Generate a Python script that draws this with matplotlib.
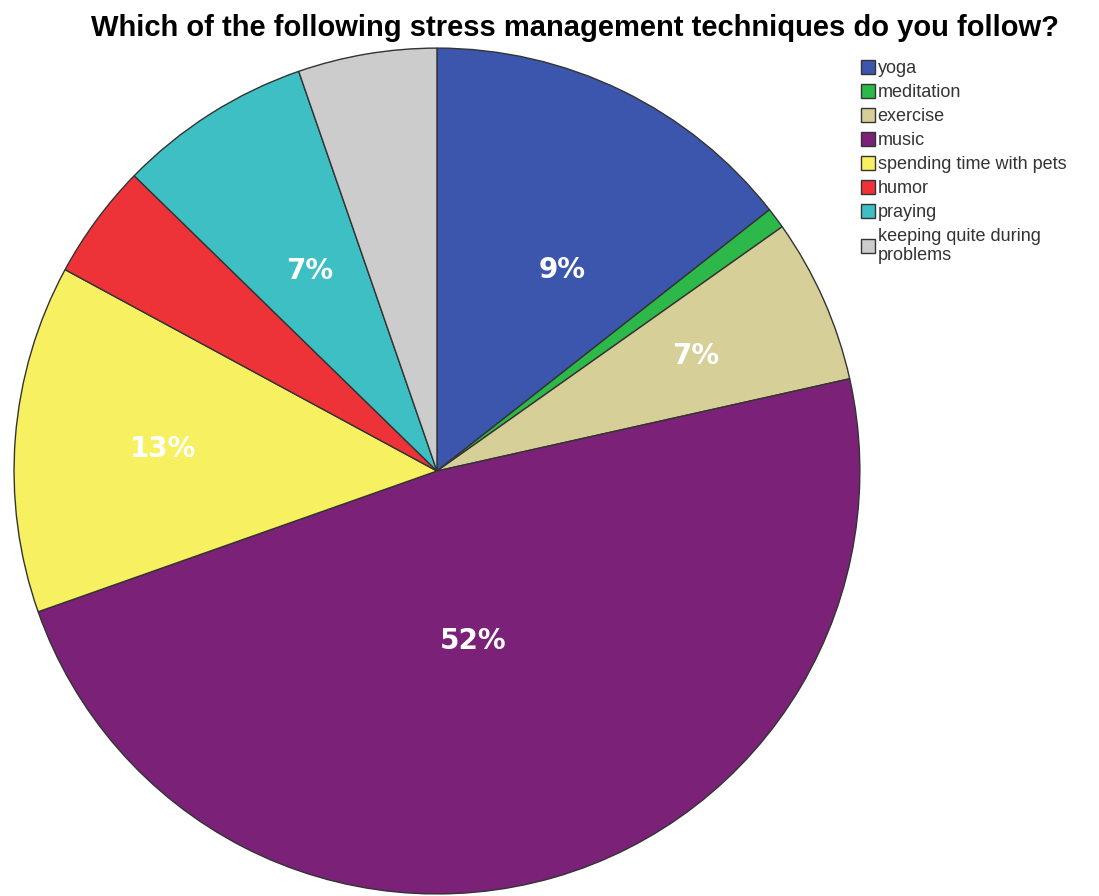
import numpy as np
import matplotlib.pyplot as plt

# slice shares (percent), clockwise from 12 o'clock
techniques = ["yoga", "meditation", "exercise", "music", "spending time with pets",
              "humor", "praying", "keeping quite during\nproblems"]
shares = [14.4, 0.8, 6.3, 48.1, 13.3, 4.4, 7.4, 5.3]
# printed labels as they appear on the chart (blank = no label)
labels = ["9%", "", "7%", "52%", "13%", "", "7%", ""]
colors = ["#3c56ad", "#2db84a", "#d6cf97", "#7b2278", "#f7f060",
          "#ee3338", "#3dbfc4", "#cccccc"]

fig = plt.figure(figsize=(10.99, 8.96), dpi=100)
ax = fig.add_axes([0.0126, 0.0023, 0.770, 0.944])

wedges, _ = ax.pie(shares, colors=colors, startangle=90, counterclock=False,
                   wedgeprops=dict(edgecolor="#333333", linewidth=1.0))
ax.set_xlim(-1, 1)
ax.set_ylim(-1, 1)
ax.set_aspect("equal")

# label radii (fraction of radius) and angle nudges
rfrac = [0.56, 0, 0.67, 0.41, 0.65, 0, 0.56, 0]
nudge = [-6, 0, 0, -4, 0, 0, 0, 0]
for w, lab, r, d in zip(wedges, labels, rfrac, nudge):
    if not lab:
        continue
    ang = np.deg2rad((w.theta1 + w.theta2) / 2 + d)
    ax.text(r * np.cos(ang), r * np.sin(ang), lab, color="white", fontsize=20,
            fontweight="bold", ha="center", va="center", family="DejaVu Sans")

fig.text(0.523, 0.969, "Which of the following stress management techniques do you follow?",
         ha="center", va="center", fontsize=21, fontweight="bold",
         family=["Liberation Sans Narrow", "Liberation Sans"])

leg = fig.legend(wedges, techniques, loc="upper left", bbox_to_anchor=(0.783, 0.933),
                 frameon=False, prop={"family": "Liberation Sans", "size": 13},
                 handlelength=0.8, handleheight=0.8,
                 handletextpad=0.15, labelspacing=0.38, borderpad=0, borderaxespad=0)
for t in leg.get_texts():
    t.set_color("#333333")
    t.set_linespacing(1.1)

fig.savefig("out.png", dpi=100)
